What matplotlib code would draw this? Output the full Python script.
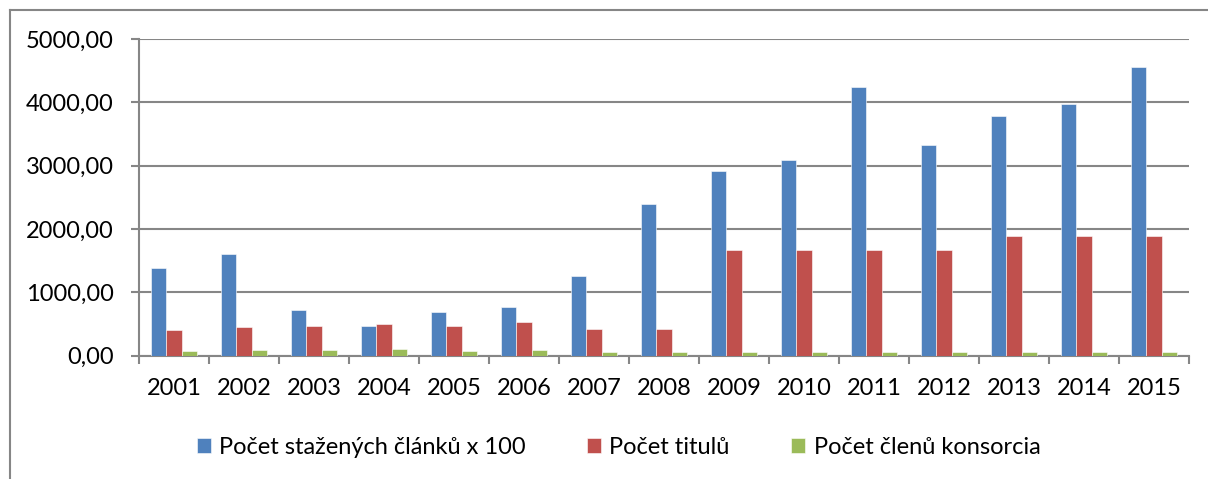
import numpy as np
import matplotlib
matplotlib.use("Agg")
import matplotlib.pyplot as plt
from matplotlib.lines import Line2D
from matplotlib.ticker import FuncFormatter

years = ["2001", "2002", "2003", "2004", "2005", "2006", "2007", "2008",
         "2009", "2010", "2011", "2012", "2013", "2014", "2015"]
clanky = [1390, 1607, 711, 469, 686, 774, 1259, 2400,
          2916, 3081, 4234, 3322, 3785, 3975, 4557]
tituly = [406, 449, 469, 501, 464, 532, 422, 415,
          1659, 1659, 1659, 1659, 1885, 1885, 1885]
clenove = [74, 79, 90, 95, 74, 90, 63, 63,
           58, 58, 58, 58, 58, 58, 58]
labels = ["Počet stažených článků x 100", "Počet titulů", "Počet členů konsorcia"]
colors = ["#4F81BD", "#C0504D", "#9BBB59"]

plt.rcParams["font.family"] = ["Lato", "DejaVu Sans"]
grid_col = "#868686"
fs = 17

fig = plt.figure(figsize=(12.08, 4.79), dpi=100)
ax = fig.add_axes([139 / 1208, 1 - 355.5 / 479, 1050 / 1208, 316.5 / 479])

x = np.arange(len(years))
w = 0.215
for i, (vals, lab, col) in enumerate(zip([clanky, tituly, clenove], labels, colors)):
    ax.bar(x + (i - 1) * w, vals, width=w, color=col, label=lab,
           edgecolor="white", linewidth=0.4, zorder=3)

ax.set_xlim(-0.5, len(years) - 0.5)
ax.set_ylim(0, 5000)
ax.set_yticks(np.arange(0, 5001, 1000))
ax.yaxis.set_major_formatter(FuncFormatter(lambda v, p: f"{v:.2f}".replace(".", ",")))
ax.grid(axis="y", color=grid_col, linewidth=1.5, zorder=0)

ax.set_xticks(x)
ax.set_xticklabels(years)
ax.set_xticks(np.arange(-0.5, len(years), 1), minor=True)
ax.tick_params(axis="x", which="major", length=0, pad=16, labelsize=fs)
ax.tick_params(axis="x", which="minor", length=6, width=1.5, color=grid_col)
ax.tick_params(axis="y", length=6, width=1.5, color=grid_col, pad=12, labelsize=fs)

for s in ["top", "right"]:
    ax.spines[s].set_visible(False)
for s in ["left", "bottom"]:
    ax.spines[s].set_color(grid_col)
    ax.spines[s].set_linewidth(1.5)

leg = fig.legend(loc="center", bbox_to_anchor=(0.512, 1 - 447 / 479), ncol=3,
                 frameon=False, fontsize=fs, handlelength=0.6, handleheight=0.6,
                 handletextpad=0.35, columnspacing=2.6)

# outer chart border (right and bottom run off the picture)
fig.add_artist(Line2D([9.5 / 1208, 9.5 / 1208], [0, 1 - 10 / 479],
                      color=grid_col, linewidth=1.5, transform=fig.transFigure))
fig.add_artist(Line2D([9.5 / 1208, 1], [1 - 10 / 479, 1 - 10 / 479],
                      color=grid_col, linewidth=1.5, transform=fig.transFigure))

fig.savefig("out.png", dpi=100)
